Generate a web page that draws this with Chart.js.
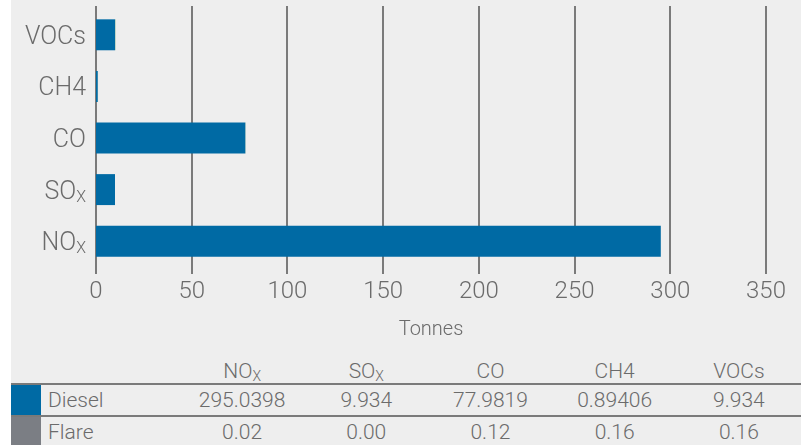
<!DOCTYPE html>
<html>
<head>
<meta charset="utf-8">
<script src="https://cdn.jsdelivr.net/npm/chart.js@4/dist/chart.umd.min.js"></script>
<style>
  html, body { margin: 0; padding: 0; background: #ffffff; width: 801px; height: 445px; overflow: hidden; }
  #panel { position: absolute; left: 11px; top: 0; width: 790px; height: 445px; background: #eeeeee;
           font-family: Roboto, "Liberation Sans", Arial, sans-serif; font-weight: 300; color: #6b6b6b; }
  #plot { position: absolute; left: 0; top: 0; }
  table { position: absolute; left: 0; top: 355px; width: 790px; border-collapse: collapse; table-layout: fixed; font-size: 21px; }
  td, th { padding: 0; font-weight: 300; text-align: center; vertical-align: middle; white-space: nowrap; }
  thead th { height: 29px; padding-top: 4px; box-sizing: border-box; }
  tbody tr { border-top: 2px solid #7a7a7a; }
  tbody td { height: 30px; }
  td.swatch { width: 30px; }
  td.name { text-align: left; padding-left: 7px; }
  .sub { font-size: 14px; position: relative; top: 3px; }
</style>
</head>
<body>
<div id="panel">
  <canvas id="plot" width="790" height="350"></canvas>
  <table id="data">
    <colgroup>
      <col style="width:30px"><col style="width:139px">
      <col style="width:124.2px"><col style="width:124.2px"><col style="width:124.2px"><col style="width:124.2px"><col style="width:124.2px">
    </colgroup>
    <thead><tr id="head"><th></th><th></th></tr></thead>
    <tbody id="body"></tbody>
  </table>
</div>
<script>
// Emission categories (bottom to top on the chart) and tonnes per source
const categories   = ['NOx', 'SOx', 'CO', 'CH4', 'VOCs'];
const dieselValues = [295.0398, 9.934, 77.9819, 0.89406, 9.934];
const flareValues  = [0.02, 0.00, 0.12, 0.16, 0.16];
const seriesNames  = ['Diesel', 'Flare'];
const xTicks       = [0, 50, 100, 150, 200, 250, 300, 350];
const axisTitle    = 'Tonnes';

// Chemical formulas written with a subscript part
const subscripts = { NOx: ['NO', 'X'], SOx: ['SO', 'X'] };

const FONT = 'Roboto, "Liberation Sans", Arial, sans-serif';
const TEXT = '#6b6b6b';
const BLUE = '#006aa4';
const GREEN = '#5aa271';
const GREY_SWATCH = '#7b7e84';
const GRID = '#7a7a7a';

// Vertical grid lines, slightly longer than the plot area, at each x tick
const gridLines = {
  id: 'gridLines',
  beforeDatasetsDraw(chart) {
    const { ctx, chartArea } = chart;
    const xs = chart.scales.x;
    ctx.save();
    ctx.strokeStyle = GRID;
    ctx.lineWidth = 2;
    xs.ticks.forEach(t => {
      const px = Math.round(xs.getPixelForValue(t.value));
      ctx.beginPath();
      ctx.moveTo(px, chartArea.top - 3);
      ctx.lineTo(px, chartArea.bottom + 7);
      ctx.stroke();
    });
    ctx.restore();
  }
};

// Category labels on the left, with subscripts where needed
const categoryLabels = {
  id: 'categoryLabels',
  afterDatasetsDraw(chart) {
    const { ctx, chartArea } = chart;
    const ys = chart.scales.y;
    const big = '300 25px ' + FONT;
    const small = '300 16px ' + FONT;
    ctx.save();
    ctx.fillStyle = TEXT;
    ctx.textAlign = 'left';
    ctx.textBaseline = 'alphabetic';
    categories.forEach((c, i) => {
      const parts = subscripts[c] || [c, ''];
      const y = ys.getPixelForValue(i);
      ctx.font = big;
      const w1 = ctx.measureText(parts[0]).width;
      ctx.font = small;
      const w2 = parts[1] ? ctx.measureText(parts[1]).width : 0;
      const right = chartArea.left - 10;
      const base = y + 9;
      ctx.font = big;
      ctx.fillText(parts[0], right - w1 - w2, base);
      if (parts[1]) {
        ctx.font = small;
        ctx.fillText(parts[1], right - w2, base + 3);
      }
    });
    ctx.restore();
  }
};

new Chart(document.getElementById('plot'), {
  type: 'bar',
  data: {
    labels: categories,
    datasets: [
      { label: seriesNames[0], data: dieselValues, backgroundColor: BLUE, borderWidth: 0 },
      { label: seriesNames[1], data: flareValues, backgroundColor: GREEN, borderWidth: 0 }
    ]
  },
  options: {
    indexAxis: 'y',
    responsive: false,
    animation: false,
    layout: { padding: { left: 0, right: 35, top: 9, bottom: 0 } },
    datasets: { bar: { categoryPercentage: 1, barPercentage: 0.6 } },
    plugins: { legend: { display: false }, tooltip: { enabled: false } },
    scales: {
      x: {
        stacked: true,
        min: xTicks[0],
        max: xTicks[xTicks.length - 1],
        afterBuildTicks(scale) { scale.ticks = xTicks.map(v => ({ value: v })); },
        ticks: { color: TEXT, font: { family: FONT, size: 24, weight: 300 }, padding: 4, maxRotation: 0 },
        grid: { display: false, drawTicks: true, tickLength: 7 },
        border: { display: false },
        title: { display: true, text: axisTitle, color: TEXT, font: { family: FONT, size: 20, weight: 300 }, padding: { top: 0, bottom: 8 } },
        afterFit(scale) { scale.height = 83; }
      },
      y: {
        stacked: true,
        reverse: true,
        ticks: { display: false },
        grid: { display: false },
        border: { display: false },
        afterFit(scale) { scale.width = 85; }
      }
    }
  },
  plugins: [gridLines, categoryLabels]
});

// Data table under the chart
function labelHTML(c) {
  const p = subscripts[c];
  return p ? p[0] + '<span class="sub">' + p[1] + '</span>' : c;
}
const head = document.getElementById('head');
categories.forEach(c => {
  const th = document.createElement('th');
  th.innerHTML = labelHTML(c);
  head.appendChild(th);
});
const body = document.getElementById('body');
[[seriesNames[0], dieselValues, BLUE, v => String(v)],
 [seriesNames[1], flareValues, GREY_SWATCH, v => v.toFixed(2)]].forEach(([name, vals, color, fmt]) => {
  const tr = document.createElement('tr');
  const sw = document.createElement('td');
  sw.className = 'swatch';
  sw.style.background = color;
  tr.appendChild(sw);
  const nm = document.createElement('td');
  nm.className = 'name';
  nm.textContent = name;
  tr.appendChild(nm);
  vals.forEach(v => {
    const td = document.createElement('td');
    td.textContent = fmt(v);
    tr.appendChild(td);
  });
  body.appendChild(tr);
});
</script>
</body>
</html>
